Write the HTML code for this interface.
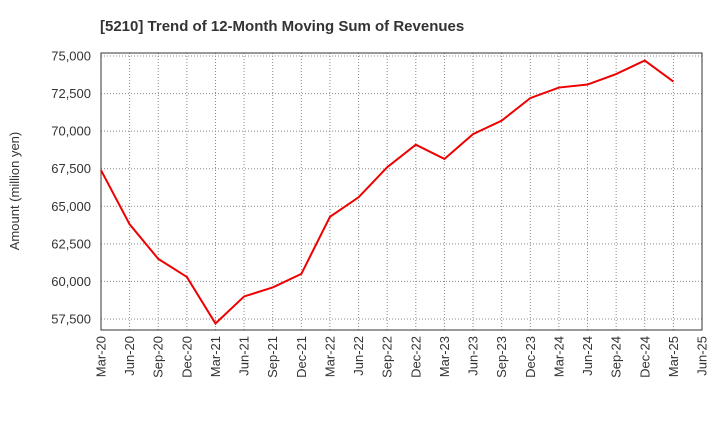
<!DOCTYPE html>
<html><head><meta charset="utf-8"><style>
body{margin:0;background:#fff;}
svg text{font-family:"Liberation Sans",Arial,sans-serif;}
</style></head><body>
<svg id="chart" width="720" height="440" xmlns="http://www.w3.org/2000/svg">
<text x="100" y="31" font-size="15" font-weight="bold" fill="#333">[5210]  Trend of 12-Month Moving Sum of Revenues</text>
<text transform="translate(19,191) rotate(-90)" text-anchor="middle" font-size="13" fill="#333">Amount (million yen)</text>
<g id="grid"></g><g id="axes"></g><g id="series"></g>
</svg>
<script>
const categories=["Mar-20","Jun-20","Sep-20","Dec-20","Mar-21","Jun-21","Sep-21","Dec-21","Mar-22","Jun-22","Sep-22","Dec-22","Mar-23","Jun-23","Sep-23","Dec-23","Mar-24","Jun-24","Sep-24","Dec-24","Mar-25","Jun-25"];
const revenues=[67400,63800,61500,60300,57200,59000,59600,60500,64300,65600,67600,69100,68150,69800,70700,72200,72900,73100,73800,74700,73300];
const yTicks=[57500,60000,62500,65000,67500,70000,72500,75000];
const L=101,R=702,T=53,B=330;
const x=i=>L+(R-L)*i/(categories.length-1);
const y=v=>56+(75000-v)*(319-56)/(75000-57500);
const NS="http://www.w3.org/2000/svg";
function mk(tag,attrs,parent){const e=document.createElementNS(NS,tag);for(const k in attrs)e.setAttribute(k,attrs[k]);parent.appendChild(e);return e;}
const grid=document.getElementById('grid'),axes=document.getElementById('axes'),series=document.getElementById('series');
categories.forEach((c,i)=>{
  const gl=mk('line',{x1:x(i),x2:x(i),y1:T,y2:B,stroke:'#888','stroke-dasharray':'1,2','stroke-width':1},grid);
  
  
  const t=mk('text',{transform:`translate(${x(i)+4.5},${B+6}) rotate(-90)`,'text-anchor':'end','font-size':13,fill:'#333'},axes);
  t.textContent=c;
  
  
});
yTicks.forEach(v=>{
  const gl=mk('line',{x1:L,x2:R,y1:y(v),y2:y(v),stroke:'#888','stroke-dasharray':'1,2','stroke-width':1},grid);
  
  
  const t=mk('text',{x:L-10,y:y(v)+4.5,'text-anchor':'end','font-size':13,fill:'#333'},axes);
  t.textContent=v.toLocaleString('en-US');
  
  
});
const frame=mk('rect',{x:L,y:T,width:R-L,height:B-T,fill:'none',stroke:'#333','stroke-width':1},axes);


const line=mk('polyline',{points:revenues.map((v,i)=>x(i)+','+y(v)).join(' '),fill:'none',stroke:'#e00','stroke-width':2},series);


</script>
</body></html>
